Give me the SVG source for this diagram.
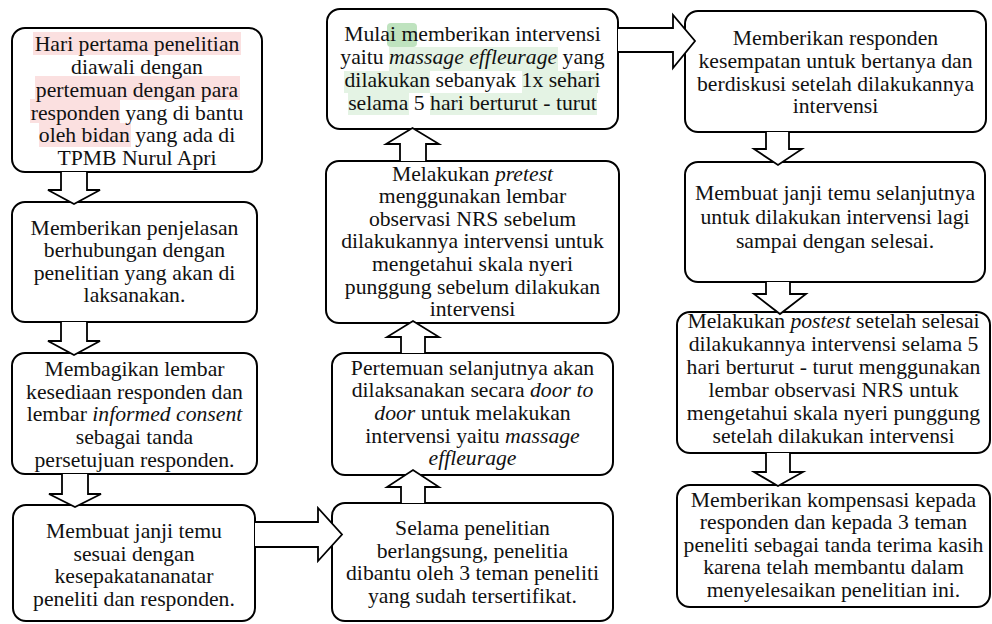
<svg xmlns="http://www.w3.org/2000/svg" width="992" height="624" viewBox="0 0 992 624">
<style>
.box{fill:#fff;stroke:#000;stroke-width:2}
.arr{fill:#fff;stroke:#000;stroke-width:1.8;stroke-linejoin:miter}
.t{font-family:"Liberation Serif","Times New Roman",serif;font-size:21.7px;fill:#111;text-anchor:middle}
.i{font-style:italic}
.hp{fill:#fbe0e0}
.hg{fill:#e4f3e4}
.hg2{fill:#bfe3bf}
</style>
<rect width="992" height="624" fill="#fff"/>
<g id="b1">
<rect class="box" x="12" y="28" width="250" height="144" rx="13"/>
<rect class="hp" x="33" y="32" width="208" height="23"/>
<rect class="hp" x="35" y="76" width="205" height="24"/>
<rect class="hp" x="30" y="99" width="90" height="24"/>
<rect class="hp" x="39" y="123" width="92" height="24"/>
<text class="t"><tspan x="137" y="51">Hari pertama penelitian</tspan><tspan x="137" y="74">diawali dengan</tspan><tspan x="137" y="97">pertemuan dengan para</tspan><tspan x="137" y="119.7">responden yang di bantu</tspan><tspan x="137" y="142.4">oleh bidan yang ada di</tspan><tspan x="137" y="165.1">TPMB Nurul Apri</tspan></text>
</g>
<g id="b2">
<rect class="box" x="12" y="202" width="245" height="120" rx="13"/>
<text class="t"><tspan x="134.5" y="234.6">Memberikan penjelasan</tspan><tspan x="134.5" y="257.2">berhubungan dengan</tspan><tspan x="134.5" y="279.8">penelitian yang akan di</tspan><tspan x="134.5" y="302.4">laksanakan.</tspan></text>
</g>
<g id="b3">
<rect class="box" x="12" y="353" width="245" height="121" rx="13"/>
<text class="t"><tspan x="134.5" y="376">Membagikan lembar</tspan><tspan x="134.5" y="398.7">kesediaan responden dan</tspan><tspan x="134.5" y="421.4">lembar <tspan class="i">informed consent</tspan></tspan><tspan x="134.5" y="444.1">sebagai tanda</tspan><tspan x="134.5" y="466.8">persetujuan responden.</tspan></text>
</g>
<g id="b4">
<rect class="box" x="13" y="505" width="242" height="116" rx="13"/>
<text class="t"><tspan x="134" y="537.9">Membuat janji temu</tspan><tspan x="134" y="560.5">sesuai dengan</tspan><tspan x="134" y="583.1">kesepakatananatar</tspan><tspan x="134" y="605.7">peneliti dan responden.</tspan></text>
</g>
<g id="m1">
<rect class="box" x="327" y="9" width="291" height="120" rx="13"/>
<rect class="hg2" x="387" y="23" width="30" height="24" rx="4"/>
<rect class="hg" x="389" y="47" width="169" height="24"/>
<rect class="hg" x="344" y="71" width="86" height="22"/>
<rect class="hg" x="522" y="71" width="76" height="22"/>
<rect class="hg" x="348" y="93" width="61" height="22"/>
<rect class="hg" x="430" y="93" width="167" height="22"/>
<text class="t"><tspan x="472.5" y="41">Mulai memberikan intervensi</tspan><tspan x="472.5" y="64">yaitu <tspan class="i">massage effleurage</tspan> yang</tspan><tspan x="472.5" y="87">dilakukan sebanyak 1x sehari</tspan><tspan x="472.5" y="110">selama 5 hari berturut - turut</tspan></text>
</g>
<g id="m2">
<rect class="box" x="326" y="161" width="293" height="162" rx="13"/>
<text class="t"><tspan x="472.5" y="180.5">Melakukan <tspan class="i">pretest</tspan></tspan><tspan x="472.5" y="203.1">menggunakan lembar</tspan><tspan x="472.5" y="225.7">observasi NRS sebelum</tspan><tspan x="472.5" y="248.3">dilakukannya intervensi untuk</tspan><tspan x="472.5" y="270.9">mengetahui skala nyeri</tspan><tspan x="472.5" y="293.5">punggung sebelum dilakukan</tspan><tspan x="472.5" y="316.1">intervensi</tspan></text>
</g>
<g id="m3">
<rect class="box" x="332" y="353" width="281" height="122" rx="13"/>
<text class="t"><tspan x="472.5" y="374.8">Pertemuan selanjutnya akan</tspan><tspan x="472.5" y="397.4">dilaksanakan secara <tspan class="i">door to</tspan></tspan><tspan x="472.5" y="420"><tspan class="i">door</tspan> untuk melakukan</tspan><tspan x="472.5" y="442.6">intervensi yaitu <tspan class="i">massage</tspan></tspan><tspan x="472.5" y="465.2" class="i">effleurage</tspan></text>
</g>
<g id="m4">
<rect class="box" x="332" y="503" width="281" height="118" rx="13"/>
<text class="t"><tspan x="472.5" y="534.9">Selama penelitian</tspan><tspan x="472.5" y="557.5">berlangsung, penelitia</tspan><tspan x="472.5" y="580.1">dibantu oleh 3 teman peneliti</tspan><tspan x="472.5" y="602.7">yang sudah tersertifikat.</tspan></text>
</g>
<g id="r1">
<rect class="box" x="685" y="11" width="301" height="121" rx="13"/>
<text class="t"><tspan x="835.5" y="45.3">Memberikan responden</tspan><tspan x="835.5" y="67.9">kesempatan untuk bertanya dan</tspan><tspan x="835.5" y="90.5">berdiskusi setelah dilakukannya</tspan><tspan x="835.5" y="113.1">intervensi</tspan></text>
</g>
<g id="r2">
<rect class="box" x="685" y="162" width="300" height="120" rx="13"/>
<text class="t"><tspan x="835" y="200">Membuat janji temu selanjutnya</tspan><tspan x="835" y="224">untuk dilakukan intervensi lagi</tspan><tspan x="835" y="248">sampai dengan selesai.</tspan></text>
</g>
<g id="r3">
<rect class="box" x="677" y="312" width="313" height="141" rx="13"/>
<text class="t"><tspan x="833.5" y="328.3">Melakukan <tspan class="i">postest</tspan> setelah selesai</tspan><tspan x="833.5" y="351.3">dilakukannya intervensi selama 5</tspan><tspan x="833.5" y="374.3">hari berturut - turut menggunakan</tspan><tspan x="833.5" y="397.3">lembar observasi NRS untuk</tspan><tspan x="833.5" y="420.3">mengetahui skala nyeri punggung</tspan><tspan x="833.5" y="443.3">setelah dilakukan intervensi</tspan></text>
</g>
<g id="r4">
<rect class="box" x="677" y="485" width="313" height="122" rx="13"/>
<text class="t"><tspan x="833.5" y="506.5">Memberikan kompensasi kepada</tspan><tspan x="833.5" y="529.1">responden dan kepada 3 teman</tspan><tspan x="833.5" y="551.7">peneliti sebagai tanda terima kasih</tspan><tspan x="833.5" y="574.3">karena telah membantu dalam</tspan><tspan x="833.5" y="596.9">menyelesaikan penelitian ini.</tspan></text>
</g>
<g id="connectors">
<path class="arr" d="M61,172 V190 H48 L74,204 L100,190 H87 V172"/>
<path class="arr" d="M61,322 V341 H48 L74,355 L100,341 H87 V322"/>
<path class="arr" d="M62,474 V494 H49 L75,507 L101,494 H88 V474"/>
<path class="arr" d="M255,522 H318 V508 L342,534.5 L318,561 V547 H255"/>
<path class="arr" d="M400,161 V144 H386 L412.5,128 L439,144 H426 V161"/>
<path class="arr" d="M401,353 V337 H387 L413,321 L439,337 H425 V353"/>
<path class="arr" d="M401,503 V487 H387 L413,470 L439,487 H425 V503"/>
<path class="arr" d="M618,28 H673 V15 L695,41 L673,68 V52 H618"/>
<path class="arr" d="M766,132 V149 H754 L778,165 L802,149 H789 V132"/>
<path class="arr" d="M766,282 V294 H754 L780,314 L806,294 H790 V282"/>
<path class="arr" d="M766,453 V472 H754 L778,486 L803,472 H790 V453"/>
</g>
</svg>
